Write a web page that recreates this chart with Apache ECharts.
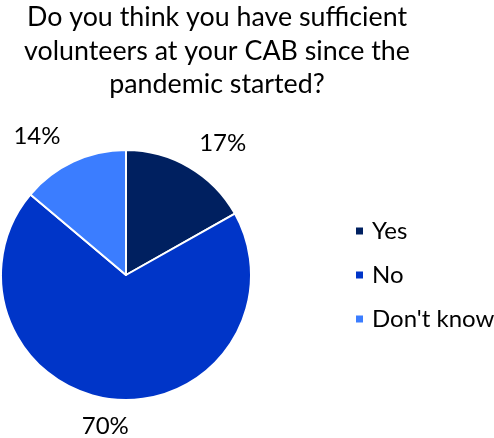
<!DOCTYPE html>
<html>
<head>
<meta charset="utf-8">
<script src="https://cdn.jsdelivr.net/npm/echarts@6/dist/echarts.min.js"></script>
<style>html,body{margin:0;padding:0;background:#fff;}#c{width:494px;height:438px;}</style>
</head>
<body>
<div id="c"></div>
<script>
const categories = ['Yes', 'No', "Don't know"];
const values = [17, 70, 14];
const colors = ['#002060', '#0035C8', '#3B7DFF'];
const titleText = 'Do you think you have sufficient\nvolunteers at your CAB since the\npandemic started?';
// per-slice label offsets (styling only)
const labelLen = [28, 27, 28];
const labelLen2 = [-4, -17, 1];

const chart = echarts.init(document.getElementById('c'), null, {renderer: 'canvas'});
chart.setOption({
  animation: false,
  title: {
    text: titleText,
    left: 212,
    top: -4,
    textAlign: 'center',
    textStyle: {fontFamily: 'Lato', fontSize: 26.8, fontWeight: 'normal', color: '#000', lineHeight: 33.5}
  },
  legend: {
    orient: 'vertical',
    left: 349,
    top: 214,
    itemWidth: 9,
    itemHeight: 9,
    itemGap: 20,
    icon: 'rect',
    textStyle: {fontFamily: 'Lato', fontSize: 24, color: '#000', padding: [0, 0, 0, 3]},
    data: categories
  },
  series: [{
    type: 'pie',
    center: [126, 275],
    radius: [0, 125],
    startAngle: 90,
    clockwise: true,
    avoidLabelOverlap: false,
    itemStyle: {borderColor: '#fff', borderWidth: 2},
    label: {
      show: true,
      position: 'outside',
      formatter: '{c}%',
      fontFamily: 'Lato',
      fontSize: 24,
      color: '#000',
      distanceToLabelLine: 0
    },
    labelLine: {show: false},
    emphasis: {disabled: true},
    data: categories.map((n, i) => ({
      name: n,
      value: values[i],
      itemStyle: {color: colors[i]},
      labelLine: {show: false, length: labelLen[i], length2: labelLen2[i]}
    }))
  }]
});
</script>
</body>
</html>
